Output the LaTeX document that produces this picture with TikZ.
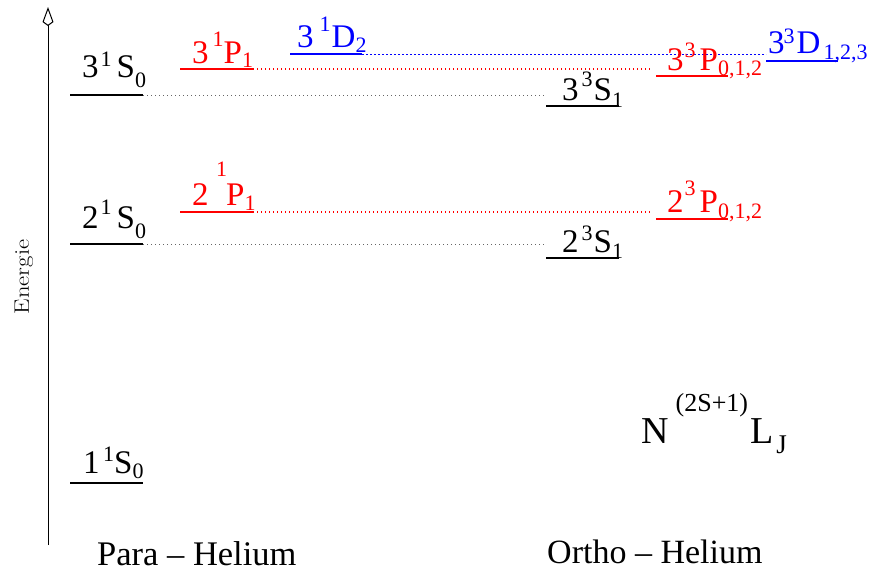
\documentclass[tikz,border=0pt]{standalone}
\usepackage{fontspec}
\setmainfont{Liberation Serif}
\newfontfamily\lmfont{Latin Modern Roman}
\usetikzlibrary{arrows.meta}
\newcommand\supf{\fontsize{22}{22}\selectfont}
% #1 big, #2 gap1, #3 sup, #4 raise, #5 gap2, #6 letter, #7 sub, #8 lower
\newcommand\lab[8]{#1\hspace{#2pt}\raisebox{#4pt}{\supf #3}\hspace{#5pt}#6\raisebox{-#8pt}{\supf #7}}
\begin{document}
\begin{tikzpicture}[x=1pt,y=-1pt,
  lvl/.style={line width=2pt},
  lbl/.style={anchor=base west, inner sep=0pt, font=\fontsize{33}{33}\selectfont},
  title/.style={anchor=base west, inner sep=0pt},
  gdot/.style={line width=1pt, black!60, dash pattern=on 1pt off 3pt},
  rdot/.style={line width=1.1pt, red, dash pattern=on 1pt off 3pt},
  bdot/.style={line width=1pt, blue, dash pattern=on 2pt off 2pt}]
\useasboundingbox (0,0) rectangle (873,576);

% energy axis
\coordinate (axb) at (48,545);
\coordinate (axt) at (48,7);
\draw[line width=1pt, -{Kite[open,length=19pt,width=11pt,inset=4pt]}] (axb) -- (axt);
\node[rotate=90, inner sep=0pt] (energie) at (24,277) {\scalebox{1.3}[1.1]{\lmfont\fontsize{19}{19}\selectfont Energie}};

% level end points
\coordinate (pS1a) at (70,483);  \coordinate (pS1b) at (143,483);
\coordinate (pS2a) at (70,244);  \coordinate (pS2b) at (143,244);
\coordinate (pS3a) at (70,95);   \coordinate (pS3b) at (143,95);
\coordinate (pP2a) at (180,212); \coordinate (pP2b) at (253,212);
\coordinate (pP3a) at (180,69);  \coordinate (pP3b) at (253,69);
\coordinate (pD3a) at (290,54);  \coordinate (pD3b) at (362,54);
\coordinate (oS2a) at (546,258); \coordinate (oS2b) at (619,258);
\coordinate (oS3a) at (546,106); \coordinate (oS3b) at (619,106);
\coordinate (oP2a) at (656,219); \coordinate (oP2b) at (728,219);
\coordinate (oP3a) at (656,76);  \coordinate (oP3b) at (728,76);
\coordinate (oD3a) at (766,61);  \coordinate (oD3b) at (838,61);

% dotted connectors
\draw[gdot] (pS3b) -- (pS3b -| oS3a);
\draw[gdot] (pS2b) -- (pS2b -| oS2a);
\draw[rdot] (pP3b) -- ([xshift=-3pt]pP3b -| oP3a);
\draw[rdot] (pP2b) -- ([xshift=-3pt]pP2b -| oP2a);
\draw[bdot] (pD3b) -- (pD3b -| oD3a);

% levels
\draw[lvl] (pS1a) -- (pS1b);
\draw[lvl] (pS2a) -- (pS2b);
\draw[lvl] (pS3a) -- (pS3b);
\draw[lvl, red] (pP2a) -- (pP2b);
\draw[lvl, red] (pP3a) -- (pP3b);
\draw[lvl, blue] (pD3a) -- (pD3b);
\draw[lvl] (oS2a) -- (oS2b);
\draw[lvl] (oS3a) -- (oS3b);
\draw[lvl, red] (oP2a) -- (oP2b);
\draw[lvl, red] (oP3a) -- (oP3b);
\draw[lvl, blue] (oD3a) -- (oD3b);

% labels
\node[lbl] (lpS3) at (82,77) {\lab{3}{2}{1}{11}{5}{S}{0}{10}};
\node[lbl] (lpS2) at (82,228) {\lab{2}{2}{1}{14}{5}{S}{0}{10}};
\node[lbl] (lpS1) at (83,473) {\lab{1}{3.5}{1}{12}{0}{S}{0}{5}};
\node[lbl, red] (lpP3) at (192,63) {\lab{3}{4}{1}{17}{0}{P}{1}{4}};
\node[lbl, red] (lpP2) at (192,205) {\lab{2}{7.5}{1}{29}{-1}{P}{1}{5}};
\node[lbl, blue] (lpD3) at (297,47) {\lab{3}{6}{1}{16}{1}{D}{2}{5}};
\node[lbl] (loS3) at (562,100) {\lab{3}{3}{3}{14}{1}{S}{1}{7}};
\node[lbl] (loS2) at (562,252) {\lab{2}{3}{3}{12}{1}{S}{1}{6}};
\node[lbl, red] (loP3) at (667,70) {\lab{3}{1}{3}{13}{4}{P}{0,1,2}{5}};
\node[lbl, red] (loP2) at (667,212) {\lab{2}{1}{3}{17}{4}{P}{0,1,2}{6}};
\node[lbl, blue] (loD3) at (768,53) {\lab{3}{-1}{3}{10}{2}{D}{\hspace{3pt}1,2,3}{6}};

% term symbol
\node[title, font=\fontsize{38}{38}\selectfont] (term) at (641,443)
  {N\hspace{7pt}\raisebox{32pt}{\fontsize{26}{26}\selectfont(2S+1)}\hspace{2pt}L\hspace{3pt}\raisebox{-10pt}{\fontsize{27}{27}\selectfont J}};

% titles
\node[title, font=\fontsize{34.5}{34.5}\selectfont] (para) at (97,565) {Para – Helium};
\node[title, font=\fontsize{34}{34}\selectfont] (ortho) at (547,563) {Ortho – Helium};
\end{tikzpicture}
\end{document}
